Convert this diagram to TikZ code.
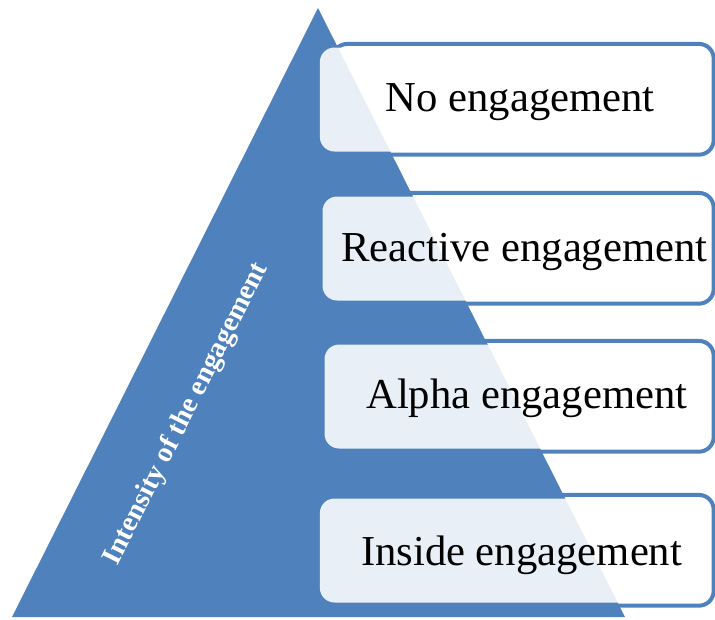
\documentclass[tikz,border=0pt]{standalone}
\usepackage{fontspec}
\setmainfont{Liberation Serif}
\usetikzlibrary{positioning}

\definecolor{pyrblue}{RGB}{79,129,189}
\pgfdeclarelayer{background}
\pgfsetlayers{background,main}

\tikzset{every picture/.style={line width=0.75pt}}
\tikzset{
  levelbox/.style={fill=white, fill opacity=0.88, rounded corners=11pt,
    anchor=east, minimum width=293pt, minimum height=78pt, inner sep=0pt},
  leveltext/.style={inner sep=0pt, font=\fontsize{32}{38}\selectfont},
  levelframe/.style={draw=pyrblue, line width=3pt, rounded corners=11pt},
}

\begin{document}
\begin{tikzpicture}[x=0.75pt,y=0.75pt,yscale=-1,xscale=1]
\useasboundingbox (0,0) rectangle (715,619);

% Level boxes
\node [levelbox] (nolevel) at (711,99.5) {};
\node [levelbox, minimum width=291pt] (reactlevel) at (711,248.5) {};
\node [levelbox, minimum width=289.5pt] (alphalevel) at (711,396.5) {};
\node [levelbox, minimum width=293pt] (insidelevel) at (711,550.5) {};

% Level labels
\node [leveltext] (notext) at ([xshift=3.8pt,yshift=2pt]nolevel.center) {No engagement};
\node [leveltext] (reacttext) at ([xshift=6pt,yshift=2.6pt]reactlevel.center) {Reactive engagement};
\node [leveltext] (alphatext) at ([xshift=7pt,yshift=1.5pt]alphalevel.center) {Alpha engagement};
\node [leveltext] (insidetext) at ([xshift=4.8pt,yshift=3.5pt]insidelevel.center) {Inside engagement};

\begin{pgfonlayer}{background}
%Pyramid
\fill [pyrblue] (318,8) -- (625,617) -- (12,617) -- cycle ;
% Frames behind the boxes
\foreach \lvl in {nolevel,reactlevel,alphalevel,insidelevel}
  \draw [levelframe] ([xshift=10pt,yshift=-2.3pt]\lvl.north west) rectangle ([xshift=2pt,yshift=2pt]\lvl.south east) ;
\end{pgfonlayer}

% Text Node
\node [rotate=63.3, text=white, font=\bfseries\fontsize{21.2}{26}\selectfont] (intensity) at (186.5,414) {Intensity of the engagement};

\end{tikzpicture}
\end{document}
